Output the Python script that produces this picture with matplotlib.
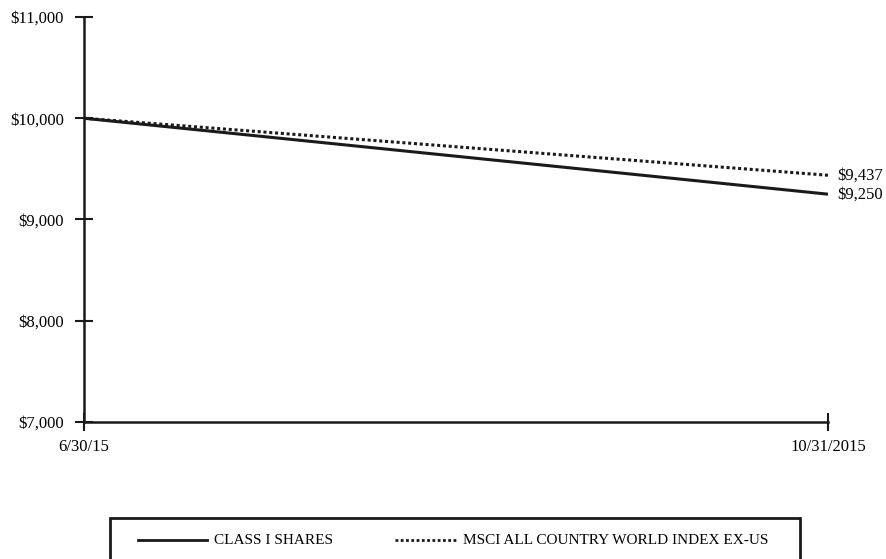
import matplotlib.pyplot as plt
from matplotlib.patches import Rectangle
from matplotlib.lines import Line2D

plt.rcParams['font.family'] = ['Liberation Serif', 'DejaVu Serif']

dates = ['6/30/15', '10/31/2015']
class_i = [10000, 9250]
msci = [10000, 9437]
yticks = [7000, 8000, 9000, 10000, 11000]

fig = plt.figure(figsize=(8.87, 5.59), dpi=100)
ax = fig.add_axes([84 / 887, 137 / 559, 744 / 887, 405 / 559])

x = list(range(len(dates)))
ax.plot(x, class_i, color='#1a1a1a', lw=2.2, solid_capstyle='butt')
ax.plot(x, msci, color='#1a1a1a', lw=2.2, linestyle=(0, (1, 0.9)))

ax.text(x[-1] + 0.012, class_i[-1], '${:,}'.format(class_i[-1]),
        fontsize=12, va='center', ha='left')
ax.text(x[-1] + 0.012, msci[-1], '${:,}'.format(msci[-1]),
        fontsize=12, va='center', ha='left')

ax.set_xlim(0, 1)
ax.set_ylim(7000, 11000)
ax.set_xticks(x)
ax.set_xticklabels(dates)
ax.set_yticks(yticks)
ax.set_yticklabels(['${:,}'.format(v) for v in yticks])

for s in ['top', 'right']:
    ax.spines[s].set_visible(False)
for s in ['left', 'bottom']:
    ax.spines[s].set_linewidth(1.8)
    ax.spines[s].set_color('#1a1a1a')
ax.tick_params(direction='inout', length=13, width=1.5, color='#1a1a1a',
               labelsize=12)
ax.tick_params(axis='y', pad=8)
ax.tick_params(axis='x', pad=6)

# legend box, cut at the bottom edge
fig.patches.append(Rectangle((110 / 887, -0.02), 690 / 887, (41 / 559) + 0.02,
                             transform=fig.transFigure, fill=False,
                             edgecolor='#1a1a1a', lw=2))
ly = 1 - 540 / 559
fig.lines.append(Line2D([138 / 887, 207 / 887], [ly, ly], transform=fig.transFigure,
                        color='#1a1a1a', lw=2))
fig.text(214 / 887, ly, 'CLASS I SHARES', fontsize=11, va='center')
fig.lines.append(Line2D([395 / 887, 457 / 887], [ly, ly], transform=fig.transFigure,
                        color='#1a1a1a', lw=2, linestyle=(0, (1, 0.9))))
fig.text(463 / 887, ly, 'MSCI ALL COUNTRY WORLD INDEX EX-US', fontsize=11, va='center')

fig.savefig('out.png', dpi=100)
